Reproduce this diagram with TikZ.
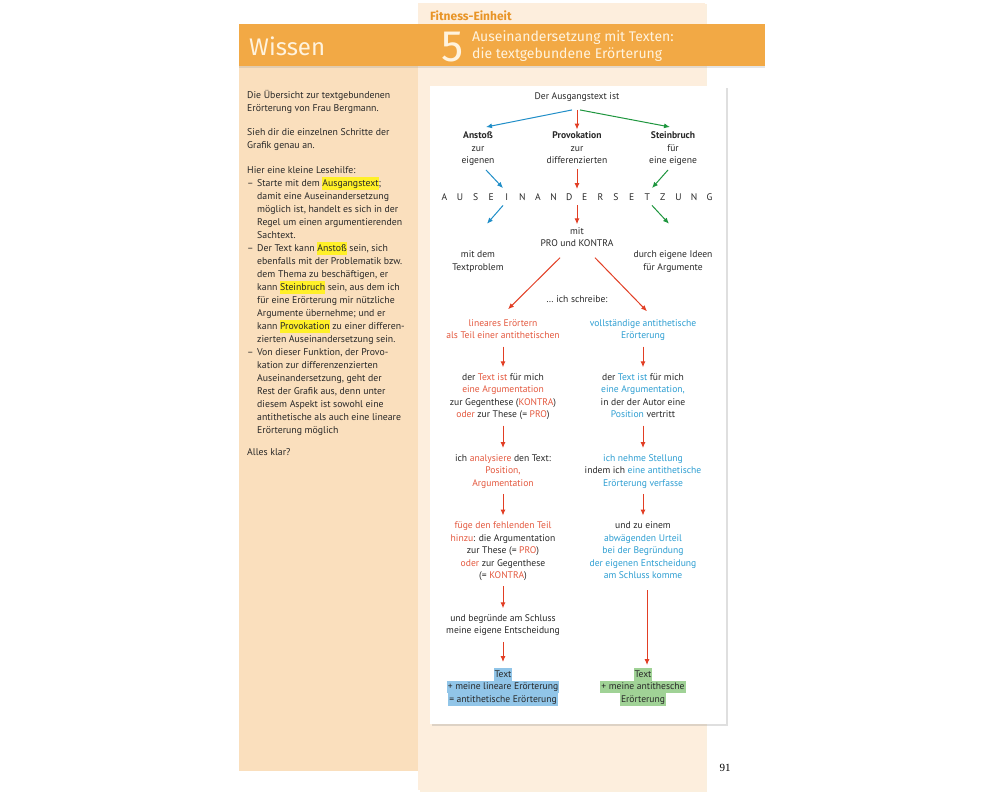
\documentclass[tikz,border=0pt]{standalone}
\usepackage{fontspec}
\setmainfont{PT Sans}
\newfontfamily\headfont{Fira Sans}
\newfontfamily\pagenofont{Liberation Serif}
\usetikzlibrary{positioning,arrows.meta,shadows}
\definecolor{bandorange}{RGB}{242,169,69}
\definecolor{leftpeach}{RGB}{250,223,189}
\definecolor{rightcream}{RGB}{253,238,221}
\definecolor{headcream}{RGB}{255,243,222}
\definecolor{fitorange}{RGB}{232,148,38}
\definecolor{txtred}{RGB}{228,88,62}
\definecolor{txtblue}{RGB}{45,158,210}
\definecolor{arrred}{RGB}{226,62,36}
\definecolor{arrblue}{RGB}{32,142,200}
\definecolor{arrgreen}{RGB}{30,150,62}
\definecolor{hlyellow}{RGB}{255,240,40}
\definecolor{hlblue}{RGB}{145,197,232}
\definecolor{hlgreen}{RGB}{160,210,150}
\definecolor{bodygray}{RGB}{40,40,40}

\newcommand{\rt}[1]{\textcolor{txtred}{#1}}
\newcommand{\bt}[1]{\textcolor{txtblue}{#1}}
\newcommand{\markyellow}[1]{{\setlength{\fboxsep}{0pt}\colorbox{hlyellow}{\strut#1}}}
\newcommand{\markblue}[1]{{\setlength{\fboxsep}{0pt}\colorbox{hlblue}{\strut\hspace{1pt}#1\hspace{1pt}}}}
\newcommand{\markgreen}[1]{{\setlength{\fboxsep}{0pt}\colorbox{hlgreen}{\strut\hspace{1pt}#1\hspace{1pt}}}}
\newcommand{\spreadletter}[1]{\makebox[15.6pt]{#1}}
\newcommand{\itemdash}{\makebox[10pt][l]{--}}
\newcommand{\itemind}{\hspace*{10pt}}

\begin{document}
\begin{tikzpicture}[
    x=1pt, y=-1pt,
    txt/.style={font=\fontsize{9.6}{12.5}\selectfont, text=bodygray, align=center, inner sep=0pt,
        yshift=-2.5pt, execute at begin node=\strut, execute at end node=\strut},
    lefttxt/.style={font=\fontsize{9.8}{13}\selectfont, text=bodygray, align=left, inner sep=0pt,
        execute at begin node=\strut},
    flow/.style={-{Latex[length=6pt,width=5pt]}, line width=1pt},
    redflow/.style={flow, draw=arrred},
    blueflow/.style={flow, draw=arrblue},
    greenflow/.style={flow, draw=arrgreen},
    downflow/.style={redflow, shorten <=4pt, shorten >=6pt}
]
    \useasboundingbox (0,0) rectangle (1000,800);
    \fill[white] (0,0) rectangle (1000,800);

    % Page panels
    \fill[rightcream, drop shadow={shadow xshift=1.5pt, shadow yshift=-1.5pt, opacity=0.15, fill=fitorange}] (418,3) rectangle (705,790);
    \fill[leftpeach] (239,66) rectangle (418,771);
    \fill[bandorange, drop shadow={shadow xshift=0pt, shadow yshift=-2pt, opacity=0.2}] (239,24) rectangle (765,66);
    \fill[white, drop shadow={shadow xshift=2pt, shadow yshift=-2pt, opacity=0.25}] (430,86) rectangle (726,724);

    % Header
    \node[anchor=west, inner sep=0pt, font=\headfont\bfseries\fontsize{12}{14}\selectfont, text=fitorange] (fitness) at (430,16) {Fitness-Einheit};
    \node[anchor=west, inner sep=0pt, font=\headfont\fontsize{24}{28}\selectfont, text=headcream] (wissen) at (249,46) {Wissen};
    \node[anchor=center, inner sep=0pt, font=\headfont\fontsize{44}{48}\selectfont, text=headcream] (five) at (453,47) {5};
    \node[anchor=west, inner sep=0pt, align=left, font=\headfont\fontsize{14}{17}\selectfont, text=headcream] (titel) at (472,46) {Auseinandersetzung mit Texten:\\die textgebundene Erörterung};

    % Reading help
    \node[lefttxt, anchor=north west] (lesehilfe) at (247,90) {%
        Die Übersicht zur textgebundenen\\
        Erörterung von Frau Bergmann.\\[11pt]
        Sieh dir die einzelnen Schritte der\\
        Grafik genau an.\\[12pt]
        Hier eine kleine Lesehilfe:\\
        \itemdash Starte mit dem \markyellow{Ausgangstext};\\
        \itemind damit eine Auseinandersetzung\\
        \itemind möglich ist, handelt es sich in der\\
        \itemind Regel um einen argumentierenden\\
        \itemind Sachtext.\\
        \itemdash Der Text kann \markyellow{Anstoß} sein, sich\\
        \itemind ebenfalls mit der Problematik bzw.\\
        \itemind dem Thema zu beschäftigen, er\\
        \itemind kann \markyellow{Steinbruch} sein, aus dem ich\\
        \itemind für eine Erörterung mir nützliche\\
        \itemind Argumente übernehme; und er\\
        \itemind kann \markyellow{Provokation} zu einer differen-\\
        \itemind zierten Auseinandersetzung sein.\\
        \itemdash Von dieser Funktion, der Provo-\\
        \itemind kation zur differenzenzierten\\
        \itemind Auseinandersetzung, geht der\\
        \itemind Rest der Grafik aus, denn unter\\
        \itemind diesem Aspekt ist sowohl eine\\
        \itemind antithetische als auch eine lineare\\
        \itemind Erörterung möglich\\[9pt]
        Alles klar?};

    % Top of the chart
    \node[txt] (aus) at (577,94) {Der Ausgangstext ist};
    \node[txt] (anstoss) at (478,147) {\textbf{Anstoß}\\zur\\eigenen};
    \node[txt] (provo) at (577,147) {\textbf{Provokation}\\zur\\differenzierten};
    \node[txt] (stein) at (673,147) {\textbf{Steinbruch}\\für\\eine eigene};
    \node[txt] (ausein) at (577,195) {\spreadletter{A}\spreadletter{U}\spreadletter{S}\spreadletter{E}\spreadletter{I}\spreadletter{N}\spreadletter{A}\spreadletter{N}\spreadletter{D}\spreadletter{E}\spreadletter{R}\spreadletter{S}\spreadletter{E}\spreadletter{T}\spreadletter{Z}\spreadletter{U}\spreadletter{N}\spreadletter{G}};
    \node[txt] (mit) at (577,236.5) {mit\\PRO und KONTRA};
    \node[txt] (mitdem) at (478,260) {mit dem\\Textproblem};
    \node[txt] (durch) at (673,260) {durch eigene Ideen\\für Argumente};
    \node[txt] (schreibe) at (577,297) {\ldots\ ich schreibe:};

    \draw[blueflow] ([shift={(-5,7)}]aus.south) -- ([shift={(8,-4.5)}]anstoss.north);
    \draw[redflow] ([shift={(0,7)}]aus.south) -- ([shift={(0,-2)}]provo.north);
    \draw[greenflow] ([shift={(3,7)}]aus.south) -- ([shift={(-3,-4.5)}]stein.north);
    \draw[blueflow] ([shift={(8,2.5)}]anstoss.south) -- ([shift={(-74,-3)}]ausein.north);
    \draw[redflow] ([shift={(0,1.5)}]provo.south) -- ([shift={(0,-2)}]ausein.north);
    \draw[greenflow] ([shift={(-5,2.5)}]stein.south) -- ([shift={(75,-3)}]ausein.north);
    \draw[blueflow] ([shift={(-74,1.5)}]ausein.south) -- ([shift={(9,-27)}]mitdem.north);
    \draw[redflow] ([shift={(0,1.5)}]ausein.south) -- ([shift={(0,-3)}]mit.north);
    \draw[greenflow] ([shift={(75,1.5)}]ausein.south) -- ([shift={(-4,-27)}]durch.north);

    % Linear column
    \node[txt, text=txtred] (lin1) at (503,328.5) {lineares Erörtern\\als Teil einer antithetischen};
    \node[txt] (lin2) at (503,395) {der \rt{Text ist} für mich\\\rt{eine Argumentation}\\zur Gegenthese (\rt{KONTRA})\\\rt{oder} zur These (= \rt{PRO})};
    \node[txt] (lin3) at (503,469.5) {ich \rt{analysiere} den Text:\\\rt{Position,}\\\rt{Argumentation}};
    \node[txt] (lin4) at (503,549.5) {\rt{füge den fehlenden Teil}\\\rt{hinzu}: die Argumentation\\zur These (= \rt{PRO})\\\rt{oder} zur Gegenthese\\(= \rt{KONTRA})};
    \node[txt] (lin5) at (503,623.5) {und begründe am Schluss\\meine eigene Entscheidung};
    \node[txt] (lin6) at (503,684.5) {\markblue{Text}\\\markblue{+ meine lineare Erörterung}\\\markblue{= antithetische Erörterung}};

    % Antithetic column
    \node[txt, text=txtblue] (anti1) at (643,328.5) {vollständige antithetische\\Erörterung};
    \node[txt] (anti2) at (643,395) {der \bt{Text ist} für mich\\\bt{eine Argumentation,}\\in der der Autor eine\\\bt{Position} vertritt};
    \node[txt] (anti3) at (643,469.5) {\bt{ich nehme Stellung}\\indem ich \bt{eine antithetische}\\\bt{Erörterung verfasse}};
    \node[txt] (anti4) at (643,549.5) {und zu einem\\\bt{abwägenden Urteil}\\\bt{bei der Begründung}\\\bt{der eigenen Entscheidung}\\\bt{am Schluss komme}};
    \node[txt] (anti6) at (643,684.5) {\markgreen{Text}\\\markgreen{+ meine antithesche}\\\markgreen{Erörterung}};

    \draw[redflow] ([shift={(-17,7)}]mit.south) -- ([shift={(5,-10)}]lin1.north);
    \draw[redflow] ([shift={(18,7)}]mit.south) -- ([shift={(4,-8)}]anti1.north);

    \draw[downflow] (lin1) -- (lin2);
    \draw[downflow] (lin2) -- (lin3);
    \draw[downflow] (lin3) -- (lin4);
    \draw[downflow] (lin4) -- (lin5);
    \draw[downflow] (lin5) -- (lin6);
    \draw[downflow] (anti1) -- (anti2);
    \draw[downflow] (anti2) -- (anti3);
    \draw[downflow] (anti3) -- (anti4);
    \draw[redflow] ([shift={(4,8)}]anti4.south) -- ([shift={(4,-3)}]anti6.north);

    % Page number
    \node[inner sep=0pt, font=\pagenofont\fontsize{11}{13}\selectfont] (seite) at (725,768) {91};
\end{tikzpicture}
\end{document}
